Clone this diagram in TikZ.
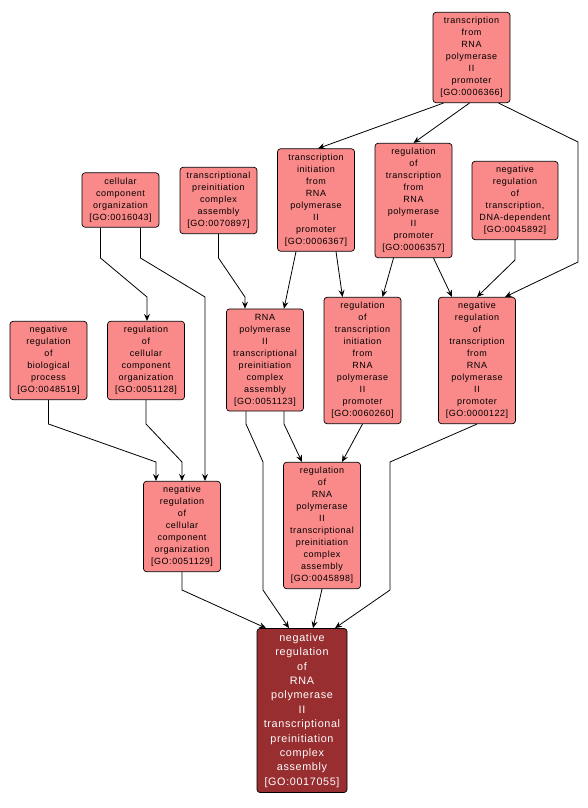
\documentclass[tikz,border=0pt]{standalone}
\usepackage{fontspec}
\setmainfont{Liberation Sans}[LetterSpace=6]
\usetikzlibrary{arrows.meta}
\definecolor{termfill}{RGB}{250,137,137}
\definecolor{targetfill}{RGB}{152,46,48}

\begin{document}
\begin{tikzpicture}[x=1pt, y=-1pt,
  term/.style={draw, line width=0.7pt, rounded corners=3pt, fill=termfill, align=center,
    inner xsep=2pt, inner ysep=5pt, minimum width=77pt, font=\fontsize{9}{12}\selectfont},
  target/.style={term, fill=targetfill, text=white, minimum width=90pt,
    font=\fontsize{10.8}{14.4}\selectfont},
  edge/.style={-{Stealth[length=7pt,width=6pt,inset=2.5pt]}, line width=0.8pt}]
\useasboundingbox (0,0) rectangle (588,808);
% GO terms, placed at their box centres
\node[term] (tr) at (471.5,57.5) {transcription\\from\\RNA\\polymerase\\II\\promoter\\{[GO:0006366]}};
\node[term] (trinit) at (316,200) {transcription\\initiation\\from\\RNA\\polymerase\\II\\promoter\\{[GO:0006367]}};
\node[term] (regtr) at (413.5,200.5) {regulation\\of\\transcription\\from\\RNA\\polymerase\\II\\promoter\\{[GO:0006357]}};
\node[term, minimum width=86pt] (negtrdna) at (515,200.5) {negative\\regulation\\of\\transcription,\\DNA-dependent\\{[GO:0045892]}};
\node[term] (cco) at (120.5,200) {cellular\\component\\organization\\{[GO:0016043]}};
\node[term] (tpca) at (218.5,200.5) {transcriptional\\preinitiation\\complex\\assembly\\{[GO:0070897]}};
\node[term] (negbio) at (48.5,360.5) {negative\\regulation\\of\\biological\\process\\{[GO:0048519]}};
\node[term] (regcco) at (146,360.5) {regulation\\of\\cellular\\component\\organization\\{[GO:0051128]}};
\node[term] (pica) at (265,360) {RNA\\polymerase\\II\\transcriptional\\preinitiation\\complex\\assembly\\{[GO:0051123]}};
\node[term] (regtrinit) at (362.5,360.5) {regulation\\of\\transcription\\initiation\\from\\RNA\\polymerase\\II\\promoter\\{[GO:0060260]}};
\node[term] (negregtr) at (477,360.5) {negative\\regulation\\of\\transcription\\from\\RNA\\polymerase\\II\\promoter\\{[GO:0000122]}};
\node[term] (negregcco) at (182,526.5) {negative\\regulation\\of\\cellular\\component\\organization\\{[GO:0051129]}};
\node[term] (regpica) at (322,525.5) {regulation\\of\\RNA\\polymerase\\II\\transcriptional\\preinitiation\\complex\\assembly\\{[GO:0045898]}};
\node[target] (negpica) at (302,710.5) {negative\\regulation\\of\\RNA\\polymerase\\II\\transcriptional\\preinitiation\\complex\\assembly\\{[GO:0017055]}};
% is_a links
\draw[edge] ([xshift=-28pt]tr.south) -- ([xshift=2pt]trinit.north);
\draw[edge] ([xshift=-2pt]tr.south) -- (regtr.north);
\draw[edge] ([xshift=27pt]tr.south) -- (578,142) -- (578,262) -- ([xshift=28pt]negregtr.north);
\draw[edge] ([xshift=-20pt]trinit.south) -- ([xshift=19pt]pica.north);
\draw[edge] ([xshift=20pt]trinit.south) -- ([xshift=-20pt]regtrinit.north);
\draw[edge] ([xshift=-20pt]regtr.south) -- ([xshift=20pt]regtrinit.north);
\draw[edge] ([xshift=20pt]regtr.south) -- ([xshift=-25pt]negregtr.north);
\draw[edge] (negtrdna.south) -- (515,260) -- (negregtr.north);
\draw[edge] ([xshift=-20pt]cco.south) -- (100.5,258) -- (147,297) -- ([xshift=1pt]regcco.north);
\draw[edge] ([xshift=20pt]cco.south) -- (140.5,258) -- (205,297) -- ([xshift=23pt]negregcco.north);
\draw[edge] (tpca.south) -- (218.5,258) -- (245,297) -- ([xshift=-20pt]pica.north);
\draw[edge] (negbio.south) -- (48.5,424) -- (156,462) -- ([xshift=-26pt]negregcco.north);
\draw[edge] (regcco.south) -- (146,424) -- (182,462) -- (negregcco.north);
\draw[edge] ([xshift=-19pt]pica.south) -- (246,424) -- (263,462) -- (263,590) -- ([xshift=-13pt]negpica.north);
\draw[edge] ([xshift=19pt]pica.south) -- (284,424) -- ([xshift=-20pt]regpica.north);
\draw[edge] (regtrinit.south) -- ([xshift=20pt]regpica.north);
\draw[edge] (negregtr.south) -- (390,462) -- (390,590) -- ([xshift=33pt]negpica.north);
\draw[edge] (negregcco.south) -- (182,590) -- ([xshift=-36pt]negpica.north);
\draw[edge] (regpica.south) -- ([xshift=11pt]negpica.north);
\end{tikzpicture}
\end{document}
